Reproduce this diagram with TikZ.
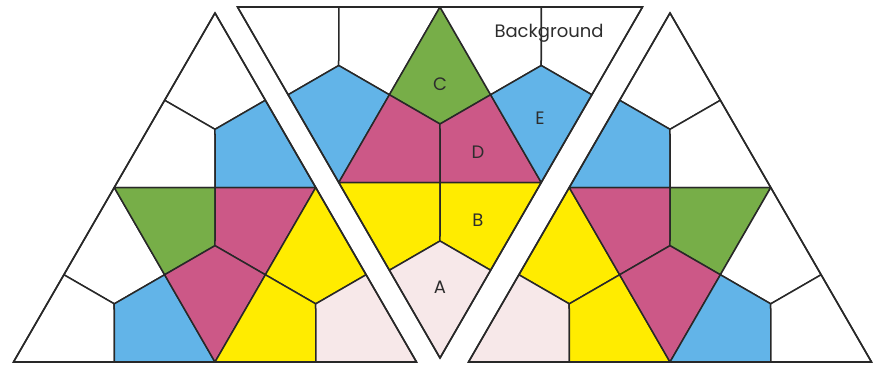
\documentclass[tikz,border=0pt]{standalone}
\usepackage{fontspec}
\setmainfont{Poppins}
\usetikzlibrary{calc}
\definecolor{kblue}{RGB}{98,180,232}
\definecolor{kgreen}{RGB}{119,174,72}
\definecolor{kpink}{RGB}{204,88,135}
\definecolor{kyellow}{RGB}{255,236,0}
\definecolor{kpale}{RGB}{247,232,233}
\definecolor{kline}{RGB}{40,40,40}
\definecolor{ktext}{RGB}{45,45,45}
\tikzset{
  kiteshape/.style={draw=kline, line width=1.5pt, line join=round},
  bigtri/.style={draw=kline, line width=1.6pt, line join=miter},
  lbl/.style={text=ktext, font=\fontsize{18}{18}\selectfont, inner sep=0pt}
}
% kite of small triangle (#1,#2,#3) at corner #1, fill #4
\newcommand{\kite}[4]{%
  \filldraw[kiteshape, fill=#4] (#1) -- ($(#1)!0.5!(#2)$) -- (barycentric cs:#1=1,#2=1,#3=1) -- ($(#1)!0.5!(#3)$) -- cycle;}
\begin{document}
\begin{tikzpicture}[x=1pt,y=-1pt]
\useasboundingbox (0,0) rectangle (875,364);
% ---------- left triangle
\coordinate (LA) at (215,13);
\coordinate (LB) at (13.5,362);
\coordinate (LC) at (416.5,362);
\coordinate (Lab) at ($(LA)!0.5!(LB)$);
\coordinate (Lac) at ($(LA)!0.5!(LC)$);
\coordinate (Lbc) at ($(LB)!0.5!(LC)$);
\kite{LA}{Lab}{Lac}{white}
\kite{Lab}{LA}{Lac}{white}
\kite{Lac}{LA}{Lab}{kblue}
\kite{Lab}{LB}{Lbc}{white}
\kite{LB}{Lab}{Lbc}{white}
\kite{Lbc}{Lab}{LB}{kblue}
\kite{Lab}{Lac}{Lbc}{kgreen}
\kite{Lac}{Lab}{Lbc}{kpink}
\kite{Lbc}{Lab}{Lac}{kpink}
\kite{Lac}{Lbc}{LC}{kyellow}
\kite{Lbc}{Lac}{LC}{kyellow}
\kite{LC}{Lac}{Lbc}{kpale}
\draw[bigtri] (LA) -- (LB) -- (LC) -- cycle;
% ---------- middle (inverted) triangle
\coordinate (MA) at (237.5,7);
\coordinate (MC) at (642.5,7);
\coordinate (MB) at (440,358);
\coordinate (Mt) at ($(MA)!0.5!(MC)$);
\coordinate (Ml) at ($(MA)!0.5!(MB)$);
\coordinate (Mr) at ($(MC)!0.5!(MB)$);
\kite{MA}{Mt}{Ml}{white}
\kite{Mt}{MA}{Ml}{white}
\kite{Ml}{MA}{Mt}{kblue}
\kite{Mt}{Ml}{Mr}{kgreen}
\kite{Ml}{Mt}{Mr}{kpink}
\kite{Mr}{Mt}{Ml}{kpink}
\kite{Mt}{MC}{Mr}{white}
\kite{MC}{Mt}{Mr}{white}
\kite{Mr}{Mt}{MC}{kblue}
\kite{Ml}{Mr}{MB}{kyellow}
\kite{Mr}{Ml}{MB}{kyellow}
\kite{MB}{Ml}{Mr}{kpale}
\draw[bigtri] (MA) -- (MC) -- (MB) -- cycle;
% ---------- right triangle
\coordinate (RA) at (670,13);
\coordinate (RB) at (468.5,362);
\coordinate (RC) at (871.5,362);
\coordinate (Rab) at ($(RA)!0.5!(RB)$);
\coordinate (Rac) at ($(RA)!0.5!(RC)$);
\coordinate (Rbc) at ($(RB)!0.5!(RC)$);
\kite{RA}{Rab}{Rac}{white}
\kite{Rab}{RA}{Rac}{kblue}
\kite{Rac}{RA}{Rab}{white}
\kite{Rab}{RB}{Rbc}{kyellow}
\kite{RB}{Rab}{Rbc}{kpale}
\kite{Rbc}{Rab}{RB}{kyellow}
\kite{Rab}{Rac}{Rbc}{kpink}
\kite{Rac}{Rab}{Rbc}{kgreen}
\kite{Rbc}{Rab}{Rac}{kpink}
\kite{Rac}{Rbc}{RC}{white}
\kite{Rbc}{Rac}{RC}{kblue}
\kite{RC}{Rac}{Rbc}{white}
\draw[bigtri] (RA) -- (RB) -- (RC) -- cycle;
% ---------- labels
\node[lbl] (lC) at (440,84) {C};
\node[lbl] (lD) at (478,152) {D};
\node[lbl] (lE) at (540,118) {E};
\node[lbl] (lB) at (478,220) {B};
\node[lbl] (lA) at (440,287) {A};
\node[lbl] (lBg) at (549,33) {Background};
\end{tikzpicture}
\end{document}
